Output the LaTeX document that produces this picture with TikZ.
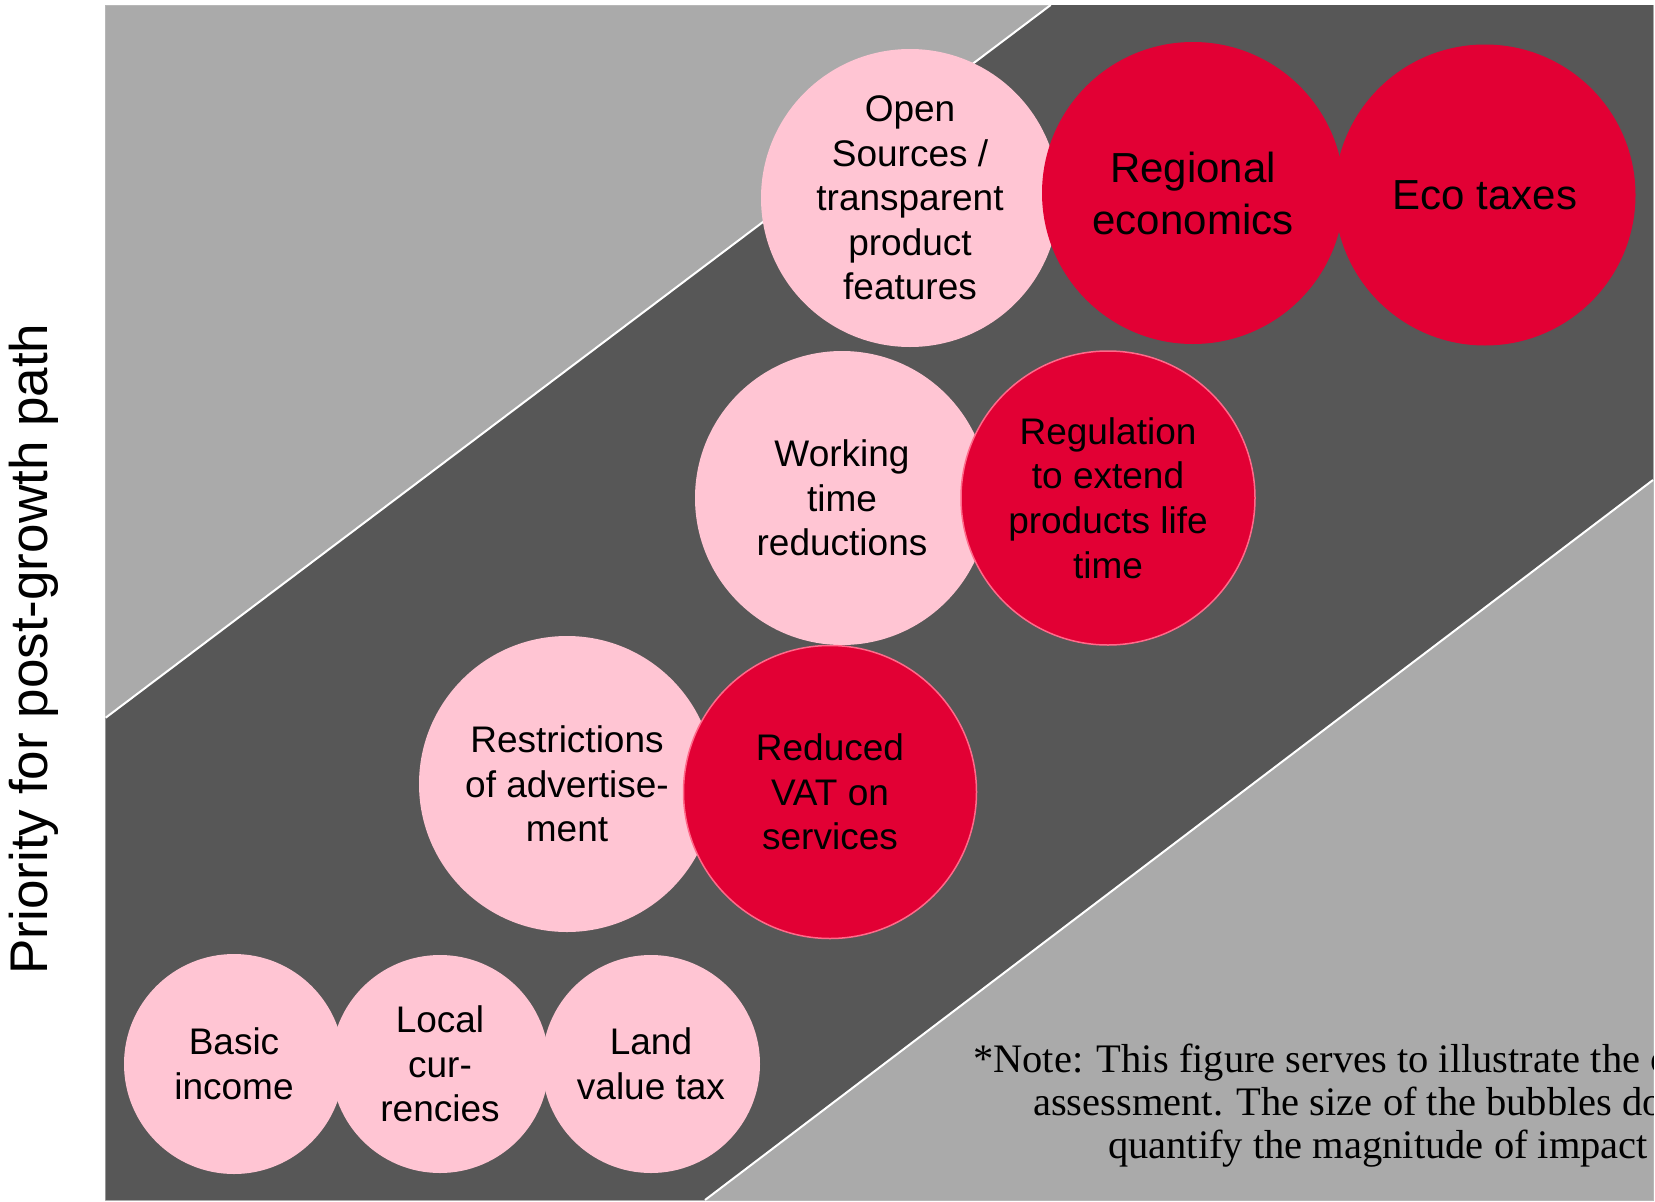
\documentclass[tikz,border=0pt]{standalone}
\usepackage{fontspec}
\setmainfont{Liberation Sans}
\newfontfamily\notefont{Liberation Serif}
\definecolor{panelgrey}{HTML}{AAAAAA}
\definecolor{bandgrey}{HTML}{575757}
\definecolor{bubblepink}{HTML}{FFC5D3}
\definecolor{bubblered}{HTML}{E20034}
\definecolor{redrim}{HTML}{FF6A8A}
\tikzset{
  bubble/.style={circle, inner sep=0pt, align=center, text=black,
    font=\fontsize{37}{44.6}\selectfont},
  pinkbubble/.style={bubble, fill=bubblepink},
  redbubble/.style={bubble, fill=bubblered},
  rimmed/.style={draw=redrim, line width=1.5pt},
  bigtext/.style={font=\fontsize{42}{52}\selectfont},
  notetext/.style={anchor=base west, inner sep=0pt, text=black,
    font=\notefont\fontsize{40.5}{43.5}\selectfont},
  edgeline/.style={white, line width=2pt}
}
\begin{document}
\begin{tikzpicture}[x=1pt, y=-1pt]
\useasboundingbox (0,0) rectangle (1655,1202);
% panel and band
\filldraw[fill=panelgrey, draw=panelgrey!85!white, line width=1pt] (105.7,5) rectangle (1653,1200);
\fill[bandgrey] (105.7,717.7) -- (1050.7,5) -- (1653,5) -- (1653,480) -- (705,1200) -- (105.7,1200) -- cycle;
\draw[edgeline] (105.7,717.7) -- (1050.7,5);
\draw[edgeline] (705,1200) -- (1653,480);
% axis label
\node[rotate=90, font=\fontsize{53}{60}\selectfont, inner sep=0pt] (ylabel) at (34,649) {Priority for post-growth path};
% top row
\node[pinkbubble, minimum size=298pt] (open) at (910,198) {Open\\Sources /\\transparent\\product\\features};
\node[redbubble, bigtext, minimum size=302pt] (regional) at (1193,193) {Regional\\economics};
\node[redbubble, bigtext, minimum size=301pt] (eco) at (1485,195) {Eco taxes};
% second row
\node[pinkbubble, minimum size=294pt] (working) at (842,498) {Working\\time\\reductions};
\node[redbubble, rimmed, minimum size=294pt] (regulation) at (1108,498) {Regulation\\to extend\\products life\\time};
% third row
\node[pinkbubble, minimum size=296pt] (restrict) at (567,784) {Restrictions\\of advertise-\\ment};
\node[redbubble, rimmed, minimum size=293pt] (vat) at (830,792) {Reduced\\VAT on\\services};
% bottom row
\node[pinkbubble, minimum size=220pt] (basic) at (234,1064) {Basic\\income};
\node[pinkbubble, minimum size=218pt] (local) at (440,1064) {Local\\cur-\\rencies};
\node[pinkbubble, minimum size=218pt] (land) at (651,1064) {Land\\value tax};
% note
\begin{scope}
\clip (0,0) rectangle (1653,1202);
\node[notetext] (note1) at (973,1072) {*Note: This figure serves to illustrate the c};
\node[notetext] (note2) at (1033,1115) {assessment. The size of the bubbles do};
\node[notetext] (note3) at (1108,1158) {quantify the magnitude of impact};
\end{scope}
\end{tikzpicture}
\end{document}
